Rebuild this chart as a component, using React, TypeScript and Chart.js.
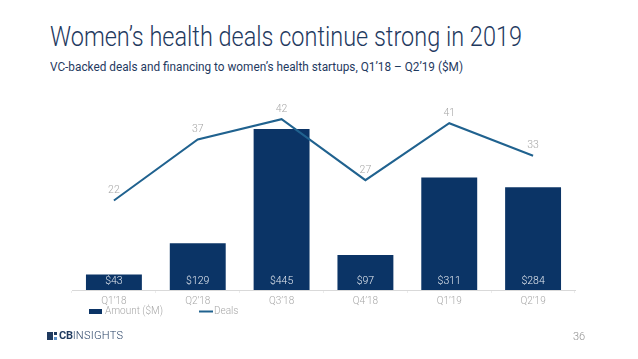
import React, { useEffect, useLayoutEffect, useRef } from "react";
import { Chart, registerables } from "chart.js";

Chart.register(...registerables);

const categories = ["Q1’18", "Q2’18", "Q3’18", "Q4’18", "Q1’19", "Q2’19"];
const amounts = [43, 129, 445, 97, 311, 284];
const deals = [22, 37, 42, 27, 41, 33];
const seriesNames = ["Amount ($M)", "Deals"];

const NAVY = "#0b3466";
const LINE = "#20628f";
const GRAY = "#a8a8a8";
const TITLE = "#1f3a5f";

const labelsPlugin = {
  id: "valueLabels",
  afterDatasetsDraw(chart: any) {
    const ctx = chart.ctx;
    ctx.save();
    ctx.font = "300 10.5px Roboto";
    ctx.textAlign = "center";
    ctx.textBaseline = "middle";
    const barMeta = chart.getDatasetMeta(0);
    barMeta.data.forEach((el: any, i: number) => {
      ctx.fillStyle = "#e4e9f0";
      ctx.fillText("$" + amounts[i], el.x, el.base - 9);
    });
    const lineMeta = chart.getDatasetMeta(1);
    lineMeta.data.forEach((el: any, i: number) => {
      ctx.fillStyle = GRAY;
      ctx.fillText(String(deals[i]), el.x, el.y - 10);
    });
    // legend
    ctx.font = "300 10px Roboto";
    const a = chart.chartArea;
    const ly = a.bottom + 21.5;
    let lx = a.left + 17;
    ctx.textAlign = "left";
    ctx.fillStyle = NAVY;
    ctx.fillRect(lx, ly - 2.5, 13, 5);
    ctx.fillStyle = GRAY;
    ctx.fillText(chart.data.datasets[0].label, lx + 16, ly);
    lx = a.left + 127;
    ctx.strokeStyle = LINE;
    ctx.lineWidth = 2;
    ctx.beginPath();
    ctx.moveTo(lx, ly);
    ctx.lineTo(lx + 14, ly);
    ctx.stroke();
    ctx.fillStyle = GRAY;
    ctx.fillText(chart.data.datasets[1].label, lx + 15, ly);
    ctx.restore();
  },
};

function FitText({ text, width, style }: { text: string; width: number; style: any }) {
  const ref = useRef<HTMLDivElement>(null);
  useLayoutEffect(() => {
    const el = ref.current;
    if (!el) return;
    el.style.transform = "none";
    const w = el.getBoundingClientRect().width;
    if (w > 0) el.style.transform = `scaleX(${width / w})`;
  }, [text, width]);
  return (
    <div
      ref={ref}
      style={{
        position: "absolute",
        whiteSpace: "nowrap",
        transformOrigin: "left center",
        ...style,
      }}
    >
      {text}
    </div>
  );
}

export default function App() {
  const canvasRef = useRef<HTMLCanvasElement>(null);

  useEffect(() => {
    const canvas = canvasRef.current;
    if (!canvas) return;
    const chart = new Chart(canvas, {
      type: "bar",
      data: {
        labels: categories,
        datasets: [
          {
            type: "bar",
            label: seriesNames[0],
            data: amounts,
            backgroundColor: NAVY,
            yAxisID: "y",
            barPercentage: 0.667,
            categoryPercentage: 1,
            order: 2,
          },
          {
            type: "line",
            label: seriesNames[1],
            data: deals,
            borderColor: LINE,
            borderWidth: 2,
            pointRadius: 0,
            tension: 0,
            fill: false,
            yAxisID: "y1",
            order: 1,
          } as any,
        ],
      },
      options: {
        animation: false,
        responsive: false,
        maintainAspectRatio: false,
        layout: { padding: { left: 72, right: 63, top: 109, bottom: 0 } },
        plugins: {
          legend: { display: false },
          title: { display: false },
          tooltip: { enabled: false },
        },
        scales: {
          x: {
            offset: true,
            grid: {
              offset: true,
              display: true,
              drawOnChartArea: false,
              drawTicks: true,
              tickLength: 3,
              color: "#ececec",
            },
            border: { display: true, color: "#d9d9d9", width: 1 },
            ticks: {
              color: GRAY,
              font: { family: "Roboto", size: 10, weight: "300" as any },
              padding: 2,
              maxRotation: 0,
            },
            afterFit: (scale: any) => {
              scale.height = 69;
            },
          },
          y: { display: false, min: 0, max: 500 },
          y1: { display: false, min: 0, max: 44.5, position: "right" },
        },
      },
      plugins: [labelsPlugin],
    });
    return () => chart.destroy();
  }, []);

  return (
    <div
      style={{
        position: "fixed",
        left: 0,
        top: 0,
        width: 638,
        height: 359,
        background: "#ffffff",
        overflow: "hidden",
        fontFamily: "Roboto, sans-serif",
      }}
    >
      <FitText
        text="Women’s health deals continue strong in 2019"
        width={472}
        style={{ left: 50, top: 23, fontSize: 28, lineHeight: "28px", fontWeight: 300, color: TITLE }}
      />
      <FitText
        text="VC-backed deals and financing to women’s health startups, Q1’18 – Q2’19 ($M)"
        width={413}
        style={{ left: 50, top: 60.5, fontSize: 12.5, lineHeight: "12.5px", fontWeight: 400, color: TITLE }}
      />
      <canvas
        ref={canvasRef}
        width={638}
        height={359}
        style={{ position: "absolute", left: 0, top: 0, width: 638, height: 359 }}
      />
      <div
        style={{
          position: "absolute",
          left: 47,
          top: 330,
          height: 12,
          display: "flex",
          alignItems: "center",
          color: TITLE,
          fontSize: 11,
          lineHeight: "12px",
        }}
      >
        <div style={{ position: "relative", width: 10, height: 8, marginRight: 2 }}>
          <div style={{ position: "absolute", left: 0, top: 0, width: 6, height: 8, background: TITLE }} />
          <div style={{ position: "absolute", left: 7, top: 0, width: 3, height: 3, background: TITLE }} />
          <div style={{ position: "absolute", left: 7, top: 5, width: 3, height: 3, background: "#5b8fc7" }} />
        </div>
        <span style={{ fontWeight: 700, letterSpacing: -0.3 }}>CB</span>
        <span style={{ fontWeight: 300, letterSpacing: 0.3 }}>INSIGHTS</span>
      </div>
      <div
        style={{
          position: "absolute",
          left: 573,
          top: 331,
          fontSize: 11,
          lineHeight: "12px",
          color: "#8f8f8f",
          fontWeight: 300,
        }}
      >
        36
      </div>
    </div>
  );
}
